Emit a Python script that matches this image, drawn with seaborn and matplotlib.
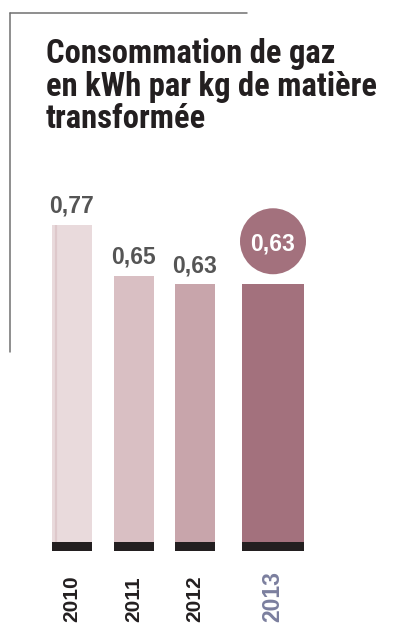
import matplotlib
matplotlib.use("Agg")
import matplotlib.pyplot as plt
from matplotlib import font_manager
from matplotlib.lines import Line2D
from matplotlib.patches import Ellipse
import pandas as pd
import seaborn as sns

# ---- data -------------------------------------------------------------
years = ["2010", "2011", "2012", "2013"]
values = [0.77, 0.65, 0.63, 0.63]
value_labels = ["0,77", "0,65", "0,63", "0,63"]
bar_colors = ["#e9dadc", "#d9bfc3", "#c8a5ab", "#a3717d"]
year_colors = ["#231f20", "#231f20", "#231f20", "#7b7f9e"]
title_lines = ["Consommation de gaz", "en kWh par kg de matière", "transformée"]

# ---- canvas -----------------------------------------------------------
W, H, DPI = 393, 628, 100
sns.set_theme(style="white")
available = {f.name for f in font_manager.fontManager.ttflist}
narrow = next((f for f in ["Liberation Sans Narrow", "DejaVu Sans Condensed",
                           "Roboto Condensed", "Liberation Sans"] if f in available),
              "DejaVu Sans")
plain = ["Liberation Sans", "DejaVu Sans"]
plt.rcParams["font.family"] = [narrow, "DejaVu Sans"]

fig = plt.figure(figsize=(W / DPI, H / DPI), dpi=DPI)
ax = fig.add_axes([0, 0, 1, 1])

# layout (pixel units along x, value units along y)
centers = [72, 133.5, 195, 273]
widths = [40, 40, 40, 62]
base_px = 551
ppu = 423.4  # pixels per kWh/kg


def yv(py):
    """Pixel row (from top) -> value coordinate."""
    return (base_px - py) / ppu


df = pd.DataFrame({"year": years, "value": values})
sns.barplot(data=df, x="year", y="value", hue="year", palette=bar_colors,
            legend=False, ax=ax, saturation=1, width=0.5, linewidth=0)

bars = sorted(ax.patches, key=lambda p: p.get_x())
for p, c, w in zip(bars, centers, widths):
    p.set_x(c - w / 2)
    p.set_width(w)

ax.set_xlim(0, W)
ax.set_ylim(yv(H), yv(0))
ax.axis("off")

# faint inner stripe along the left side of the first bar
ax.plot([centers[0] - widths[0] / 2 + 3.5] * 2, [0, values[0]],
        color="#dec8cb", lw=1.6, solid_capstyle="butt", zorder=2.5)

# dark foot under each bar
band_h = 9 / ppu
ax.bar(centers, [band_h] * len(centers), width=widths, bottom=0,
       color="#231f20", linewidth=0, zorder=3)

# value labels
for i, (c, v, lab) in enumerate(zip(centers, values, value_labels)):
    if i < len(values) - 1:
        ax.text(c, v + 12 / ppu, lab, ha="center", va="baseline", family=plain,
                fontsize=16.5, fontweight="bold", color="#555555")
    else:
        cy = v + 43 / ppu
        ax.add_patch(Ellipse((c, cy), 66, 66 / ppu, color=bar_colors[-1],
                             linewidth=0, zorder=4))
        ax.text(c, cy, lab, ha="center", va="center_baseline", family=plain,
                fontsize=16.5, fontweight="bold", color="white", zorder=5)

# year labels
for i, (c, yr, col) in enumerate(zip(centers, years, year_colors)):
    last = i == len(years) - 1
    ax.text(c, yv(622), yr, rotation=90, ha="center", va="bottom", family=plain,
            fontsize=16.5 if last else 15, fontweight="bold", color=col)

# title
for line, base in zip(title_lines, [63, 96, 128]):
    fig.text(46 / W, 1 - base / H, line, ha="left", va="baseline",
             fontsize=23.5, fontweight="bold", color="#231f20")

# frame corner
frame_col = "#707070"
fig.add_artist(Line2D([9.5 / W, 247 / W], [1 - 12.5 / H, 1 - 12.5 / H],
                      color=frame_col, lw=1.1))
fig.add_artist(Line2D([9.5 / W, 9.5 / W], [1 - 12.5 / H, 1 - 352 / H],
                      color=frame_col, lw=1.1))

fig.savefig("out.png", dpi=DPI)
